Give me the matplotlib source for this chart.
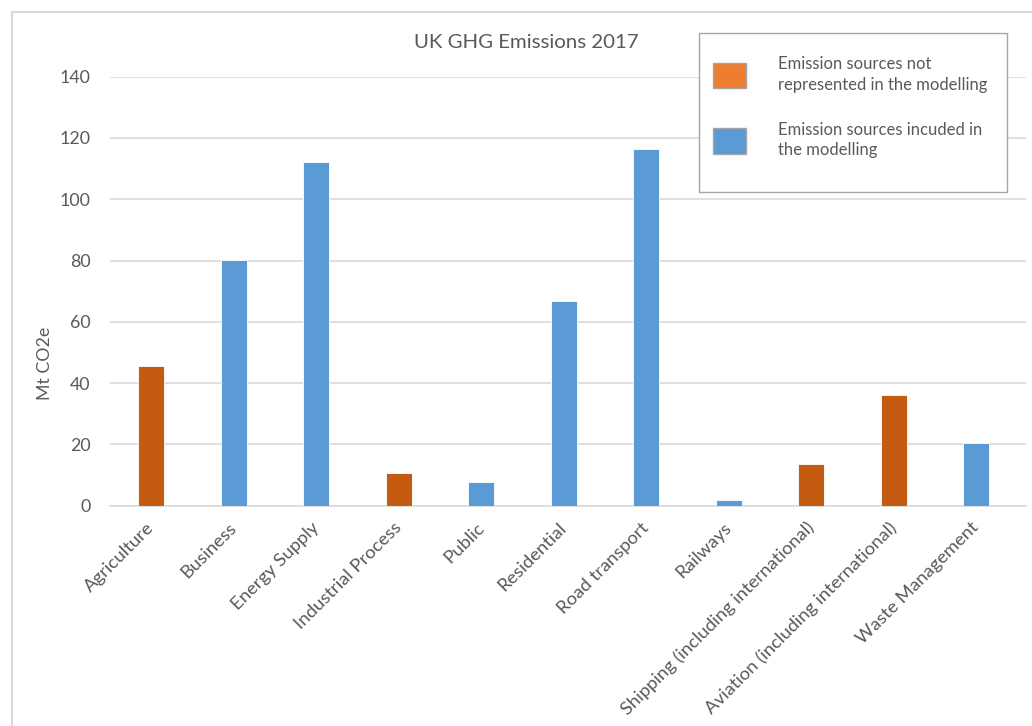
import matplotlib.pyplot as plt
from matplotlib.patches import Patch, Rectangle

# UK greenhouse gas emissions by source, 2017 (Mt CO2e)
sectors = ['Agriculture', 'Business', 'Energy Supply', 'Industrial Process', 'Public',
           'Residential', 'Road transport', 'Railways',
           'Shipping (including international)', 'Aviation (including international)',
           'Waste Management']
emissions = [45.6, 80.1, 112.3, 10.8, 7.6, 66.8, 116.3, 2.0, 13.7, 36.2, 20.5]
in_model = [False, True, True, False, True, True, True, True, False, False, True]

legend_labels = ['Emission sources not\nrepresented in the modelling',
                 'Emission sources incuded in\nthe modelling']

TEXT = '#595959'
GRID = '#D9D9D9'
BLUE = '#5B9BD5'
ORANGE_BAR = '#C55A11'
ORANGE_KEY = '#ED7D31'

plt.rcParams['font.family'] = ['Lato', 'DejaVu Sans']

W, H = 1032, 726
fig = plt.figure(figsize=(W / 100, H / 100), dpi=100)
fig.patch.set_facecolor('white')

# plot area in pixel terms
left, right, top, bottom = 110, 1026, 76.7, 505.7
ax = fig.add_axes([left / W, 1 - bottom / H, (right - left) / W, (bottom - top) / H])

x = range(len(sectors))
colors = [BLUE if m else ORANGE_BAR for m in in_model]
ax.bar(x, emissions, width=0.315, color=colors, edgecolor='white', linewidth=0.6, zorder=3)

ax.set_xlim(-0.5, 10.6)
ax.set_ylim(0, 140)
ax.set_yticks(range(0, 141, 20))
ax.grid(axis='y', color=GRID, linewidth=1.2)
ax.set_axisbelow(True)
for side in ['top', 'right', 'left']:
    ax.spines[side].set_visible(False)
ax.spines['bottom'].set_color(GRID)
ax.spines['bottom'].set_linewidth(1.2)

ax.tick_params(axis='y', length=0, pad=14, labelsize=12.8, labelcolor=TEXT)
ax.tick_params(axis='x', length=0, pad=14, labelsize=13.3, labelcolor=TEXT)
ax.set_xticks(list(x))
ax.set_xticklabels(sectors, rotation=45, ha='right', va='center', rotation_mode='anchor')

ax.set_ylabel('Mt CO2e', fontsize=12.8, color=TEXT)
ax.yaxis.set_label_coords(45 / W, 0.5, transform=fig.transFigure)
ax.yaxis.label.set_verticalalignment('center')

fig.text(526 / W, 1 - 42 / H, 'UK GHG Emissions 2017', ha='center', va='center',
         fontsize=14.7, color=TEXT)

# chart border (cut off at right and bottom)
fig.patches.append(Rectangle((12 / W, -0.1), 1.2, 1 - 12 / H + 0.1, transform=fig.transFigure,
                             fill=False, edgecolor=GRID, linewidth=1.5))

# legend box
fig.patches.append(Rectangle((699 / W, 1 - 192.3 / H), 308 / W, 159 / H,
                             transform=fig.transFigure, facecolor='white',
                             edgecolor='#A6A6A6', linewidth=1, zorder=2))
handles = [Patch(facecolor=ORANGE_KEY, edgecolor='#A6A6A6', linewidth=1),
           Patch(facecolor=BLUE, edgecolor='#A6A6A6', linewidth=1)]
leg = fig.legend(handles, legend_labels, loc='upper left',
                 bbox_to_anchor=(713 / W, 1 - 56 / H), bbox_transform=fig.transFigure,
                 frameon=False, borderpad=0, borderaxespad=0, fontsize=12,
                 handlelength=2.0, handleheight=2.0, handletextpad=1.9,
                 labelspacing=1.75, labelcolor=TEXT)
for t in leg.get_texts():
    t.set_linespacing(1.35)

fig.savefig('out.png', dpi=100)
